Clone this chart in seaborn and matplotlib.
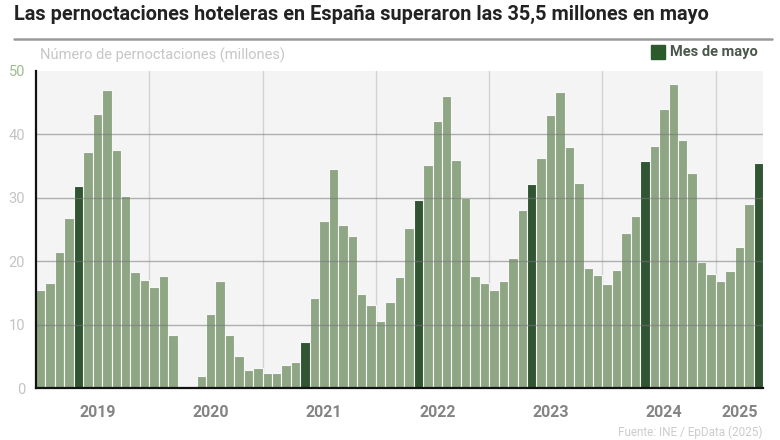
import matplotlib
matplotlib.use("Agg")
import matplotlib.pyplot as plt
import seaborn as sns
import pandas as pd
import numpy as np

# ---- data (millions of hotel overnight stays, Jan 2019 - May 2025) ----
years = ["2019", "2020", "2021", "2022", "2023", "2024", "2025"]
months = ["ene", "feb", "mar", "abr", "may", "jun", "jul", "ago", "sep", "oct", "nov", "dic"]
v2019 = [15.5, 16.6, 21.5, 26.8, 31.9, 37.2, 43.2, 47.0, 37.6, 30.3, 18.3, 17.0]
v2020 = [15.9, 17.6, 8.3, 0.05, 0.3, 1.9, 11.7, 16.9, 8.3, 5.1, 2.8, 3.2]
v2021 = [2.4, 2.4, 3.6, 4.1, 7.3, 14.2, 26.3, 34.5, 25.7, 23.9, 14.9, 13.1]
v2022 = [10.5, 13.6, 17.5, 25.2, 29.7, 35.1, 42.1, 46.1, 36.0, 29.9, 17.6, 16.5]
v2023 = [15.4, 16.8, 20.5, 28.0, 32.1, 36.2, 43.1, 46.7, 38.0, 32.4, 19.0, 17.9]
v2024 = [16.4, 18.6, 24.5, 27.1, 35.8, 38.2, 44.0, 48.0, 39.1, 33.9, 19.9, 18.0]
v2025 = [16.9, 18.4, 22.3, 29.1, 35.5]
yticks = [0, 10, 20, 30, 40, 50]

series = [v2019, v2020, v2021, v2022, v2023, v2024, v2025]
rows = []
for y, vals in zip(years, series):
    for m, v in zip(months, vals):
        rows.append({"periodo": f"{m} {y}", "anio": y, "mes": m, "valor": v,
                     "tipo": "Mes de mayo" if m == "may" else "Otro"})
df = pd.DataFrame(rows)

light = "#8dab80"
dark = "#2b5a2c"
palette = {"Mes de mayo": dark, "Otro": light}

sns.set_theme(style="white")
plt.rcParams["font.family"] = ["Roboto", "DejaVu Sans"]

fig = plt.figure(figsize=(7.8, 4.4), dpi=100)
ax = fig.add_axes([36 / 780, 1 - 388 / 440, (763 - 36) / 780, (388 - 71) / 440])
ax.set_facecolor("#f4f4f4")

sns.barplot(data=df, x="periodo", y="valor", hue="tipo", palette=palette,
            dodge=False, width=1.0, edgecolor="#f7f7f7", linewidth=0.8,
            legend=False, ax=ax, zorder=2)

n = len(df)
ax.set_xlim(-0.5, n - 0.5)
ax.set_ylim(0, 50)

# vertical gridlines at year boundaries
for i in range(12, n, 12):
    ax.axvline(i - 0.5, color="#d2d2d2", lw=1, zorder=1)
# horizontal gridlines drawn over bars
for t in yticks[1:-1]:
    ax.axhline(t, color="#777777", lw=1, alpha=0.55, zorder=3)

ax.set_yticks(yticks)
ax.set_yticklabels([str(t) for t in yticks], fontsize=10.5, color="#c4c4c4")
ax.get_yticklabels()[-1].set_color("#9dbd90")
ax.tick_params(axis="y", length=0, pad=8)

# year labels (at July / middle of each year)
pos = []
for k, y in enumerate(years):
    cnt = len(series[k])
    pos.append(k * 12 + (6 if cnt == 12 else cnt // 2))
ax.set_xticks(pos)
ax.set_xticklabels(years, fontsize=11.5, fontweight="bold", color="#848484")
ax.tick_params(axis="x", length=0, pad=12)
ax.set_xlabel("")
ax.set_ylabel("")

for s in ["top", "right"]:
    ax.spines[s].set_visible(False)
for s in ["left", "bottom"]:
    ax.spines[s].set_color("#111111")
    ax.spines[s].set_linewidth(1.6)
    ax.spines[s].set_zorder(4)

# title and decorations
fig.text(14 / 780, 1 - 14 / 440, "Las pernoctaciones hoteleras en España superaron las 35,5 millones en mayo",
         fontsize=14.3, fontweight="bold", color="#222222", va="center", ha="left")
fig.add_artist(plt.Line2D([14 / 780, 772 / 780], [1 - 39.5 / 440, 1 - 39.5 / 440],
                          color="#9a9a9a", lw=1.8))
fig.text(40 / 780, 1 - 55 / 440, "Número de pernoctaciones (millones)",
         fontsize=10.5, color="#c6c6c6", va="center", ha="left")

# legend
fig.patches.append(plt.Rectangle((651 / 780, 1 - 59 / 440), 14 / 780, 14 / 440,
                                 transform=fig.transFigure, color=dark))
fig.text(670 / 780, 1 - 52 / 440, "Mes de mayo", fontsize=10.5, fontweight="bold",
         color="#4a574a", va="center", ha="left")

fig.text(762 / 780, 1 / 440, "Fuente: INE / EpData (2025)", fontsize=8.5,
         color="#cccccc", va="bottom", ha="right")

fig.savefig("out.png", dpi=100)
